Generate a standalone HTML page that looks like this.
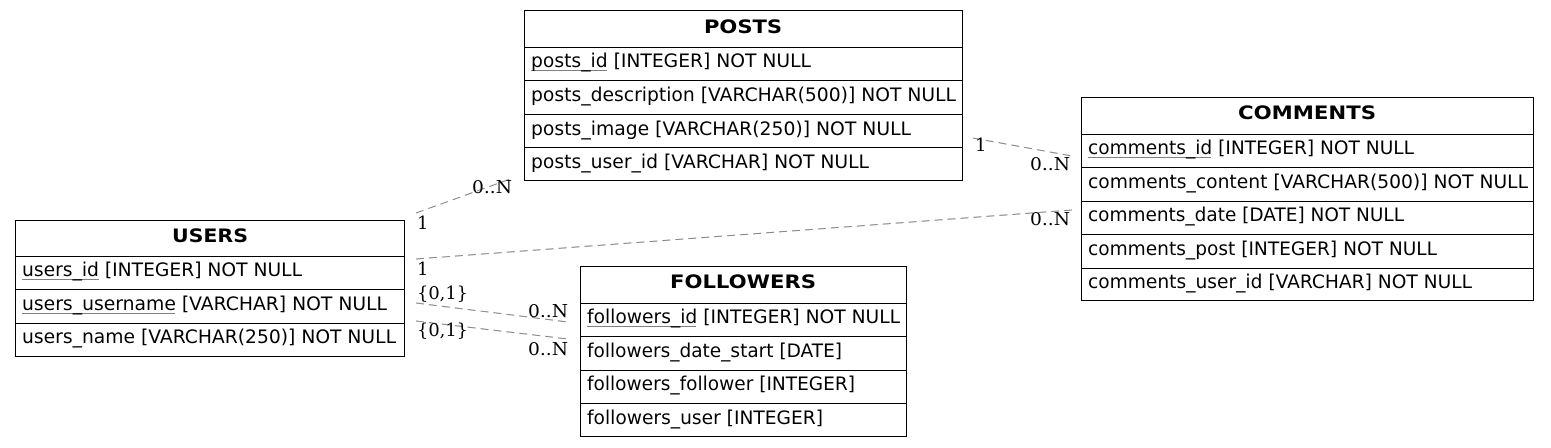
<!DOCTYPE html>
<html><head><meta charset="utf-8"><style>
html,body{margin:0;padding:0;background:#fff;width:1551px;height:448px;overflow:hidden}
svg text{font-family:"DejaVu Sans","Liberation Sans",sans-serif;font-size:18.5px;fill:#000}
svg text.b{font-weight:bold;font-size:19px}
svg text.s{font-family:"DejaVu Serif","Liberation Serif",serif;font-size:18px}
</style></head><body>
<svg width="1551" height="448" xmlns="http://www.w3.org/2000/svg">
<g stroke="#808080" stroke-width="1" stroke-dasharray="8,5" fill="none">
<line x1="416" y1="213" x2="513" y2="178"/>
<line x1="416" y1="259" x2="1072" y2="210"/>
<line x1="973" y1="138" x2="1072" y2="156"/>
<line x1="416" y1="303" x2="568" y2="322"/>
<line x1="416" y1="321" x2="568" y2="339"/>
</g>
<text class="s" x="417" y="229">1</text>
<text class="s" x="472" y="193" textLength="40" lengthAdjust="spacingAndGlyphs">0..N</text>
<text class="s" x="417" y="275">1</text>
<text class="s" x="1030" y="225" textLength="40" lengthAdjust="spacingAndGlyphs">0..N</text>
<text class="s" x="975" y="151">1</text>
<text class="s" x="1030" y="170" textLength="40" lengthAdjust="spacingAndGlyphs">0..N</text>
<text class="s" x="417" y="299" textLength="51" lengthAdjust="spacingAndGlyphs">{0,1}</text>
<text class="s" x="528" y="317" textLength="40" lengthAdjust="spacingAndGlyphs">0..N</text>
<text class="s" x="417" y="336" textLength="51" lengthAdjust="spacingAndGlyphs">{0,1}</text>
<text class="s" x="528" y="355" textLength="40" lengthAdjust="spacingAndGlyphs">0..N</text>
<g fill="none" stroke="#000" stroke-width="1">
<rect x="524.5" y="10.5" width="438" height="170"/>
<line x1="524" y1="47.5" x2="963" y2="47.5"/><line x1="524" y1="80.5" x2="963" y2="80.5"/><line x1="524" y1="114.5" x2="963" y2="114.5"/><line x1="524" y1="147.5" x2="963" y2="147.5"/>
<rect x="1081.5" y="97.5" width="452" height="203"/>
<line x1="1081" y1="134.5" x2="1534" y2="134.5"/><line x1="1081" y1="167.5" x2="1534" y2="167.5"/><line x1="1081" y1="201.5" x2="1534" y2="201.5"/><line x1="1081" y1="234.5" x2="1534" y2="234.5"/><line x1="1081" y1="268.5" x2="1534" y2="268.5"/>
<rect x="15.5" y="220.5" width="389" height="136"/>
<line x1="15" y1="256.5" x2="405" y2="256.5"/><line x1="15" y1="289.5" x2="405" y2="289.5"/><line x1="15" y1="323.5" x2="405" y2="323.5"/>
<rect x="580.5" y="266.5" width="326" height="170"/>
<line x1="580" y1="303.5" x2="907" y2="303.5"/><line x1="580" y1="336.5" x2="907" y2="336.5"/><line x1="580" y1="370.5" x2="907" y2="370.5"/><line x1="580" y1="403.5" x2="907" y2="403.5"/>
</g>
<g stroke="#808080" stroke-width="1">
<line x1="531" y1="70.5" x2="607" y2="70.5"/>
<line x1="1088" y1="157.5" x2="1211" y2="157.5"/>
<line x1="22" y1="279.5" x2="99" y2="279.5"/>
<line x1="22" y1="313.5" x2="175" y2="313.5"/>
<line x1="587" y1="326.5" x2="696" y2="326.5"/>
</g>
<text class="b" x="704" y="33" textLength="78" lengthAdjust="spacingAndGlyphs">POSTS</text>
<text x="531" y="67" textLength="280" lengthAdjust="spacingAndGlyphs">posts_id [INTEGER] NOT NULL</text>
<text x="531" y="101" textLength="425" lengthAdjust="spacingAndGlyphs">posts_description [VARCHAR(500)] NOT NULL</text>
<text x="531" y="135" textLength="380" lengthAdjust="spacingAndGlyphs">posts_image [VARCHAR(250)] NOT NULL</text>
<text x="531" y="168" textLength="338" lengthAdjust="spacingAndGlyphs">posts_user_id [VARCHAR] NOT NULL</text>
<text class="b" x="1238" y="119" textLength="138" lengthAdjust="spacingAndGlyphs">COMMENTS</text>
<text x="1088" y="154" textLength="326" lengthAdjust="spacingAndGlyphs">comments_id [INTEGER] NOT NULL</text>
<text x="1088" y="188" textLength="440" lengthAdjust="spacingAndGlyphs">comments_content [VARCHAR(500)] NOT NULL</text>
<text x="1088" y="221" textLength="316" lengthAdjust="spacingAndGlyphs">comments_date [DATE] NOT NULL</text>
<text x="1088" y="255" textLength="349" lengthAdjust="spacingAndGlyphs">comments_post [INTEGER] NOT NULL</text>
<text x="1088" y="288" textLength="384" lengthAdjust="spacingAndGlyphs">comments_user_id [VARCHAR] NOT NULL</text>
<text class="b" x="172" y="242" textLength="76" lengthAdjust="spacingAndGlyphs">USERS</text>
<text x="22" y="276" textLength="280" lengthAdjust="spacingAndGlyphs">users_id [INTEGER] NOT NULL</text>
<text x="22" y="310" textLength="365" lengthAdjust="spacingAndGlyphs">users_username [VARCHAR] NOT NULL</text>
<text x="22" y="343" textLength="374" lengthAdjust="spacingAndGlyphs">users_name [VARCHAR(250)] NOT NULL</text>
<text class="b" x="670" y="288" textLength="146" lengthAdjust="spacingAndGlyphs">FOLLOWERS</text>
<text x="587" y="323" textLength="313" lengthAdjust="spacingAndGlyphs">followers_id [INTEGER] NOT NULL</text>
<text x="587" y="357" textLength="255" lengthAdjust="spacingAndGlyphs">followers_date_start [DATE]</text>
<text x="587" y="390" textLength="268" lengthAdjust="spacingAndGlyphs">followers_follower [INTEGER]</text>
<text x="587" y="424" textLength="236" lengthAdjust="spacingAndGlyphs">followers_user [INTEGER]</text>
</svg>
</body></html>
